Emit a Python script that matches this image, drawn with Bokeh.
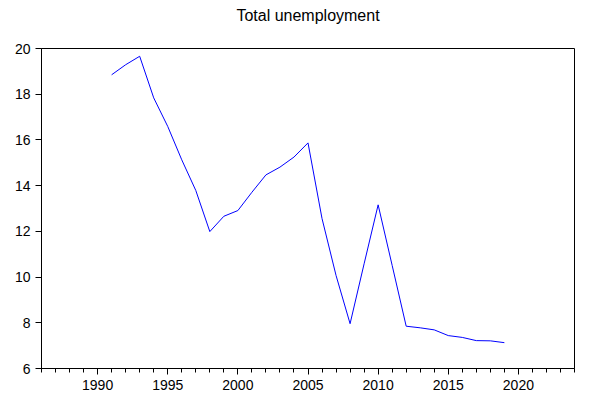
from bokeh.plotting import figure
from bokeh.models import SingleIntervalTicker, Range1d, Title
from bokeh.embed import file_html
from bokeh.resources import INLINE

title_text = "Total unemployment"
years = [1991, 1992, 1993, 1994, 1995, 1996, 1997, 1998, 1999, 2000,
         2001, 2002, 2003, 2004, 2005, 2006, 2007, 2008, 2009, 2010,
         2011, 2012, 2013, 2014, 2015, 2016, 2017, 2018, 2019]
unemployment = [18.85, 19.29, 19.66, 17.84, 16.59, 15.13, 13.79, 11.99, 12.66, 12.91,
                13.71, 14.47, 14.81, 15.25, 15.87, 12.56, 10.07, 7.96, 10.58, 13.16,
                10.51, 7.85, 7.78, 7.69, 7.44, 7.36, 7.22, 7.21, 7.13]

FONT = "Liberation Sans"

p = figure(width=594, height=408, output_backend="svg", toolbar_location=None,
           x_range=Range1d(1986, 2024), y_range=Range1d(6, 20),
           min_border_left=41, min_border_right=20, min_border_top=48, min_border_bottom=40)

p.line(years, unemployment, line_color="#0000FF", line_width=1)

# spacer panel sits next to the frame, the real title above it
spacer = Title(text=" ", align="center", text_font=FONT, text_font_size="16px",
               text_color="white", standoff=6)
main_title = Title(text=title_text, align="center", vertical_align="bottom",
                   text_font=FONT, text_font_size="16px", text_font_style="normal",
                   text_color="black", standoff=0)
p.add_layout(spacer, "above")
p.add_layout(main_title, "above")

p.xgrid.visible = False
p.ygrid.visible = False
p.background_fill_color = "white"
p.border_fill_color = "white"
p.outline_line_color = "black"
p.outline_line_width = 1
p.outline_line_alpha = 1

p.xaxis.ticker = SingleIntervalTicker(interval=5, num_minor_ticks=5)
p.yaxis.ticker = SingleIntervalTicker(interval=2, num_minor_ticks=0)

for ax in (p.xaxis, p.yaxis):
    ax.axis_line_color = "black"
    ax.major_tick_line_color = "black"
    ax.minor_tick_line_color = "black"
    ax.major_tick_in = 0
    ax.minor_tick_in = 0
    ax.major_label_text_font = FONT
    ax.major_label_text_font_size = "14px"
    ax.major_label_text_color = "black"
    ax.major_label_standoff = 5

p.xaxis.major_tick_out = 6
p.xaxis.minor_tick_out = 4
p.yaxis.major_tick_out = 6
p.yaxis.minor_tick_out = 0

open("out.html", "w").write(file_html(p, INLINE))
